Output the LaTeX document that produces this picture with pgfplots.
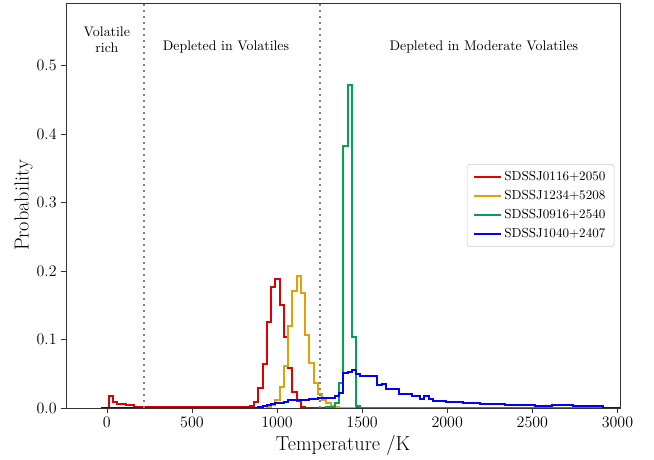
\documentclass[border=0pt]{standalone}
\usepackage{pgfplots}
\pgfplotsset{compat=1.18}
\definecolor{cRed}{HTML}{E00000}
\definecolor{cOrange}{HTML}{E69F00}
\definecolor{cGreen}{HTML}{00A550}
\definecolor{cBlue}{HTML}{0000FF}

\begin{document}
\begin{tikzpicture}
\useasboundingbox (-49.5pt,-39pt) rectangle (441pt,306pt);
\begin{axis}[
  at={(0,0)}, anchor=south west, scale only axis,
  width=415.5pt, height=303.75pt,
  xmin=-240, xmax=3015, ymin=0, ymax=0.591,
  xtick={0,500,1000,1500,2000,2500,3000},
  ytick={0,0.1,0.2,0.3,0.4,0.5},
  xticklabel style={/pgf/number format/1000 sep={}},
  yticklabel style={/pgf/number format/.cd, fixed, fixed zerofill, precision=1},
  ticklabel style={font=\fontsize{11.7}{14}\selectfont},
  label style={font=\fontsize{15.2}{18}\selectfont},
  xlabel={Temperature /K}, ylabel={Probability},
  ylabel shift=-4pt, xlabel shift=-1pt,
  tick align=outside, major tick length=3.5pt,
  xtick pos=bottom, ytick pos=left,
  axis line style={black!80}, tick style={black!80},
  every axis plot/.append style={line width=1.5pt, line join=miter},
  legend cell align=left,
  legend image code/.code={\draw[#1] (0pt,0pt) -- (20pt,0pt);},
  legend style={at={(0.9897,0.5)}, anchor=east, draw=black!20, rounded corners=2pt,
    fill=white, fill opacity=0.8, text opacity=1,
    font=\fontsize{9.8}{11}\selectfont, inner xsep=4.5pt, inner ysep=3pt, row sep=2pt},
]
% red
\addplot[cRed, const plot] coordinates {
 (10,0) (10,0.018) (35,0.009) (60,0.006) (110,0.004) (160,0.002) (240,0.001)
 (790,0.002) (840,0.003) (865,0.009) (890,0.029) (915,0.064) (940,0.125) (965,0.176)
 (990,0.188) (1015,0.151) (1040,0.104) (1065,0.058) (1090,0.024) (1115,0.010)
 (1140,0.002) (1165,0) (1500,0)};
\addlegendentry{SDSSJ0116+2050}
% orange
\addplot[cOrange, const plot] coordinates {
 (940,0) (940,0.002) (965,0.004) (990,0.012) (1015,0.031) (1040,0.062) (1065,0.119)
 (1090,0.170) (1115,0.193) (1140,0.168) (1165,0.107) (1190,0.066) (1215,0.036)
 (1240,0.020) (1265,0.012) (1290,0.007) (1315,0.003) (1340,0.001) (1365,0) (1465,0)};
\addlegendentry{SDSSJ1234+5208}
% green
\addplot[cGreen, const plot] coordinates {
 (1290,0) (1290,0.001) (1340,0.007) (1365,0.037) (1390,0.382) (1415,0.471)
 (1440,0.103) (1465,0.003) (1490,0) (3015,0)};
\addlegendentry{SDSSJ0916+2540}
% blue
\addplot[cBlue, const plot] coordinates {
 (-35,0) (890,0.002) (915,0.003) (940,0.004) (965,0.006) (990,0.007) (1040,0.009)
 (1065,0.011) (1090,0.012) (1190,0.013) (1240,0.014) (1315,0.015) (1340,0.017)
 (1365,0.022) (1390,0.051) (1415,0.053) (1440,0.056) (1465,0.049) (1490,0.046)
 (1590,0.034) (1615,0.035) (1640,0.028) (1665,0.027) (1715,0.020) (1765,0.021)
 (1790,0.018) (1840,0.0135) (1865,0.017) (1890,0.0135) (1915,0.010) (1965,0.0105)
 (1990,0.009) (2040,0.0085) (2090,0.0073) (2140,0.0078) (2190,0.006) (2265,0.0055)
 (2340,0.0044) (2415,0.0047) (2515,0.0034) (2615,0.0037) (2740,0.003) (2815,0.0033)
 (2915,0) (3015,0)};
\addlegendentry{SDSSJ1040+2407}
% region boundaries
\addplot[forget plot, black!50, line width=1.5pt, dash pattern=on 1.5pt off 3pt]
 coordinates {(220,0) (220,0.591)};
\addplot[forget plot, black!50, line width=1.5pt, dash pattern=on 1.5pt off 3pt]
 coordinates {(1250,0) (1250,0.591)};
\node[align=center, font=\fontsize{10.4}{12}\selectfont] at (axis cs:0,0.537) {Volatile\\rich};
\node[font=\fontsize{10.4}{12}\selectfont] at (axis cs:700,0.527) {Depleted in Volatiles};
\node[font=\fontsize{10.4}{12}\selectfont] at (axis cs:2215,0.527) {Depleted in Moderate Volatiles};
\end{axis}
\end{tikzpicture}
\end{document}
